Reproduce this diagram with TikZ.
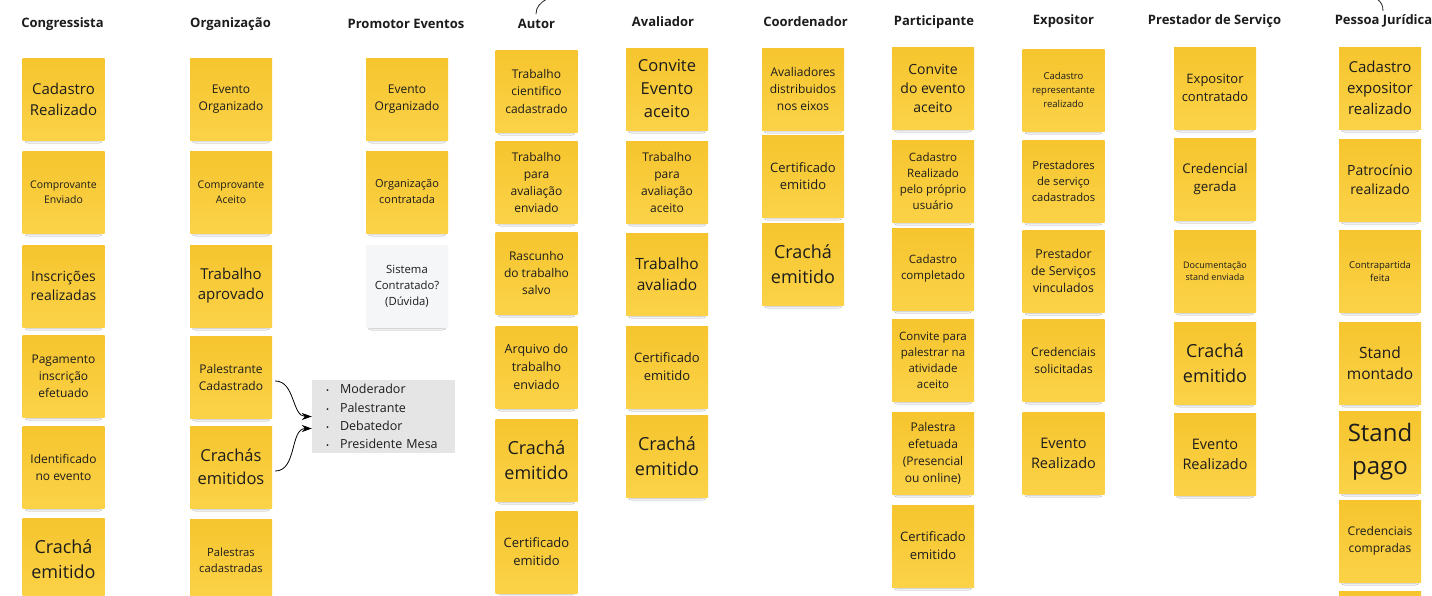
\documentclass[tikz,border=0pt]{standalone}
\usepackage{fontspec}
\setmainfont{Open Sans}
\usetikzlibrary{shadows.blur,arrows.meta}
\definecolor{noteTop}{RGB}{246,197,46}
\definecolor{noteBot}{RGB}{251,210,72}
\definecolor{txt}{RGB}{28,28,28}
\definecolor{greyNote}{RGB}{245,246,248}
\definecolor{listBg}{RGB}{229,229,229}
\newcommand\fsz[2]{\fontsize{#1}{#2}\selectfont}
\newcommand\itm[1]{\makebox[14pt][l]{\fsz{8}{8}\textbullet}#1}
\tikzset{
  note/.style={minimum width=82pt, minimum height=82pt, inner sep=0pt, align=center,
    top color=noteTop, bottom color=noteBot, text=txt,
    blur shadow={shadow xshift=0pt, shadow yshift=-6pt, shadow scale=0.88, shadow blur radius=3pt, shadow opacity=60}},
  greynote/.style={note, top color=greyNote, bottom color=greyNote},
  hdr/.style={font=\bfseries\fsz{13}{15}, text=txt, inner sep=0pt},
  listbox/.style={fill=listBg, minimum width=143pt, minimum height=73pt, inner sep=0pt,
    text width=115pt, align=left, text=txt, font=\fsz{12.5}{18.2}},
  link/.style={draw=black, line width=0.8pt, -{Stealth[length=10pt,width=7pt]}},
  stub/.style={draw=black!85, line width=0.8pt}
}
\begin{document}
\begin{tikzpicture}[x=1pt,y=-1pt]
\useasboundingbox (0,0) rectangle (1432,595);
\fill[white] (0,0) rectangle (1432,595);

% headers
\node[hdr] (h1) at (62.5,24) {Congressista};
\node[hdr] (h2) at (230.5,24) {Organização};
\node[hdr] (h3) at (406,24) {Promotor Eventos};
\node[hdr] (h4) at (536.5,24) {Autor};
\node[hdr] (h5) at (663,22) {Avaliador};
\node[hdr] (h6) at (805.5,22) {Coordenador};
\node[hdr] (h7) at (934,22) {Participante};
\node[hdr] (h8) at (1063.5,21) {Expositor};
\node[hdr] (h9) at (1214.5,21) {Prestador de Serviço};
\node[hdr] (h10) at (1383.5,21) {Pessoa Jurídica};

% stubs at top
\coordinate (sa1) at (536,14);
\coordinate (sa2) at (547,-1);
\draw[stub] (sa1) .. controls (536,7) and (540,3) .. (sa2);
\coordinate (sb1) at (1383,11);
\coordinate (sb2) at (1377,-1);
\draw[stub] (sb1) .. controls (1383,5) and (1381,2) .. (sb2);

% Congressista
\node[note, font=\fsz{15}{21}] (c1) at (63.5,99) {Cadastro\\Realizado};
\node[note, font=\fsz{10.5}{15}] (c2) at (63.5,192) {Comprovante\\Enviado};
\node[note, font=\fsz{14}{19.5}] (c3) at (63.5,286) {Inscrições\\realizadas};
\node[note, font=\fsz{12}{17}] (c4) at (63.5,376) {Pagamento\\inscrição\\efetuado};
\node[note, font=\fsz{12}{17}] (c5) at (63.5,467) {Identificado\\no evento};
\node[note, font=\fsz{18}{25}] (c6) at (63.5,559) {Crachá\\emitido};

% Organizacao
\node[note, font=\fsz{12}{17}] (o1) at (231,99) {Evento\\Organizado};
\node[note, font=\fsz{10.5}{15}] (o2) at (231,192) {Comprovante\\Aceito};
\node[note, font=\fsz{15}{20}] (o3) at (231,286) {Trabalho\\aprovado};
\node[note, font=\fsz{12}{17}] (o4) at (231,377) {Palestrante\\Cadastrado};
\node[note, font=\fsz{16.5}{23}] (o5) at (231,467) {Crachás\\emitidos};
\node[note, font=\fsz{11.3}{16}] (o6) at (231,560) {Palestras\\cadastradas};

% Promotor
\node[note, font=\fsz{12}{17}] (p1) at (407,99) {Evento\\Organizado};
\node[note, font=\fsz{11}{16}] (p2) at (407,192) {Organização\\contratada};
\node[greynote, font=\fsz{11.3}{16}] (p3) at (407,286) {Sistema\\Contratado?\\(Dúvida)};

% list
\node[listbox] (list) at (383.5,416.5) {\itm{Moderador}\\\itm{Palestrante}\\\itm{Debatedor}\\\itm{Presidente Mesa}};
\draw[link] ([xshift=3pt,yshift=-4pt]o4.east) to[out=0,in=180] (list.west);
\draw[link] ([xshift=3pt,yshift=-4pt]o5.east) to[out=0,in=180] ([yshift=-12pt]list.west);

% Autor
\node[note, font=\fsz{12}{17.5}] (a1) at (536.5,91) {Trabalho\\cientifico\\cadastrado};
\node[note, font=\fsz{12}{17}] (a2) at (536.5,182) {Trabalho\\para\\avaliação\\enviado};
\node[note, font=\fsz{12}{17}] (a3) at (536.5,273) {Rascunho\\do trabalho\\salvo};
\node[note, font=\fsz{12.5}{18}] (a4) at (536.5,367) {Arquivo do\\trabalho\\enviado};
\node[note, font=\fsz{18}{25}] (a5) at (536.5,460) {Crachá\\emitido};
\node[note, font=\fsz{13}{18}] (a6) at (536.5,552) {Certificado\\emitido};

% Avaliador
\node[note, font=\fsz{16.5}{23}] (v1) at (667,89) {Convite\\Evento\\aceito};
\node[note, font=\fsz{12}{17}] (v2) at (667,182) {Trabalho\\para\\avaliação\\aceito};
\node[note, font=\fsz{15.5}{21}] (v3) at (667,274) {Trabalho\\avaliado};
\node[note, font=\fsz{13}{18}] (v4) at (667,367) {Certificado\\emitido};
\node[note, font=\fsz{18}{25}] (v5) at (667,456) {Crachá\\emitido};

% Coordenador
\node[note, font=\fsz{12}{17}] (k1) at (803,89) {Avaliadores\\distribuidos\\nos eixos};
\node[note, font=\fsz{13}{17}] (k2) at (803,176) {Certificado\\emitido};
\node[note, font=\fsz{18}{25}] (k3) at (803,264) {Crachá\\emitido};

% Participante
\node[note, font=\fsz{14}{19}] (t1) at (933,88) {Convite\\do evento\\aceito};
\node[note, font=\fsz{11.5}{16}] (t2) at (933,181) {Cadastro\\Realizado\\pelo próprio\\usuário};
\node[note, font=\fsz{11.5}{16}] (t3) at (933,269) {Cadastro\\completado};
\node[note, font=\fsz{11.5}{16}] (t4) at (933,360) {Convite para\\palestrar na\\atividade\\aceito};
\node[note, font=\fsz{12}{17}] (t5) at (933,453) {Palestra\\efetuada\\(Presencial\\ou online)};
\node[note, font=\fsz{13}{18}] (t6) at (933,546) {Certificado\\emitido};

% Expositor
\node[note, font=\fsz{9.5}{14}] (e1) at (1063.5,90) {Cadastro\\representante\\realizado};
\node[note, font=\fsz{11.2}{16}] (e2) at (1063.5,181) {Prestadores\\de serviço\\cadastrados};
\node[note, font=\fsz{12.3}{17}] (e3) at (1063.5,271) {Prestador\\de Serviços\\vinculados};
\node[note, font=\fsz{12}{17}] (e4) at (1063.5,360) {Credenciais\\solicitadas};
\node[note, font=\fsz{14.5}{20}] (e5) at (1063.5,453) {Evento\\Realizado};

% Prestador
\node[note, font=\fsz{13}{18}] (s1) at (1215,88) {Expositor\\contratado};
\node[note, font=\fsz{13.3}{18}] (s2) at (1215,179) {Credencial\\gerada};
\node[note, font=\fsz{9}{12}] (s3) at (1215,271) {Documentação\\stand enviada};
\node[note, font=\fsz{18}{25}] (s4) at (1215,363) {Crachá\\emitido};
\node[note, font=\fsz{14.5}{20}] (s5) at (1215,454) {Evento\\Realizado};

% Pessoa Juridica
\node[note, font=\fsz{15}{21}] (j1) at (1380,88) {Cadastro\\expositor\\realizado};
\node[note, font=\fsz{14}{19}] (j2) at (1380,180) {Patrocínio\\realizado};
\node[note, font=\fsz{9.5}{13}] (j3) at (1380,271) {Contrapartida\\feita};
\node[note, font=\fsz{15.5}{21}] (j4) at (1380,363) {Stand\\montado};
\node[note, font=\fsz{24}{33}] (j5) at (1380,452) {Stand\\pago};
\node[note, font=\fsz{12}{17}] (j6) at (1380,541) {Credenciais\\compradas};
\node[note] (j7) at (1380,632) {};
\end{tikzpicture}
\end{document}
